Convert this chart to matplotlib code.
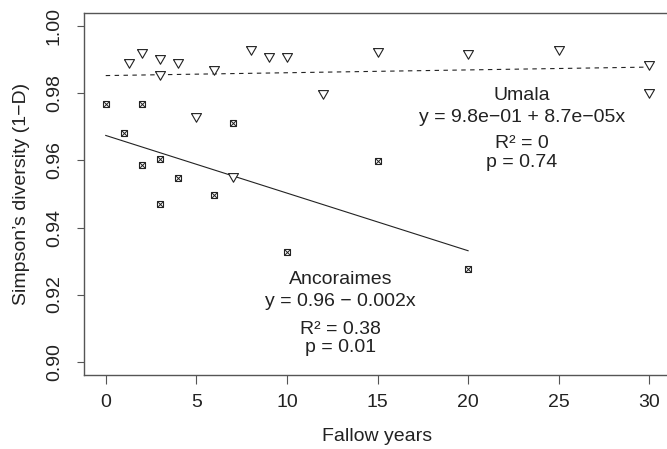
import numpy as np
import matplotlib
matplotlib.use("Agg")
import matplotlib.pyplot as plt

plt.rcParams['font.family'] = ['Liberation Sans', 'DejaVu Sans']

# Ancoraimes (boxed-x squares)
anc_years = [0, 1, 2, 2, 3, 3, 4, 6, 7, 10, 15, 20]
anc_div = [0.9768, 0.9682, 0.9768, 0.9587, 0.9604, 0.9470, 0.9548, 0.9497,
           0.9713, 0.9328, 0.9599, 0.9277]

# Umala (downward triangles)
uma_years = [1.3, 2, 3, 3, 4, 5, 6, 7, 8, 9, 10, 12, 15, 20, 25, 30, 30]
uma_div = [0.9894, 0.9925, 0.9906, 0.9858, 0.9894, 0.9733, 0.9874, 0.9555,
           0.9932, 0.9912, 0.9912, 0.9801, 0.9927, 0.9922, 0.9932, 0.9887, 0.9803]

anc_text = ['Ancoraimes', 'y = 0.96 \u2212 0.002x', 'R\u00b2 = 0.38', 'p = 0.01']
uma_text = ['Umala', 'y = 9.8e\u221201 + 8.7e\u221205x', 'R\u00b2 = 0', 'p = 0.74']

x_ticks = [0, 5, 10, 15, 20, 25, 30]
y_ticks = [0.90, 0.92, 0.94, 0.96, 0.98, 1.00]

ink = '#222222'
frame = '#555555'

fig = plt.figure(figsize=(6.67, 4.49), dpi=100)
ax = fig.add_axes([84 / 667, 74 / 449, 587 / 667, 362 / 449])

# fitted lines, drawn from 0 to the largest fallow age
for xs, ys, ls in [(anc_years, anc_div, '-'), (uma_years, uma_div, (0, (4, 4)))]:
    slope, icpt = np.polyfit(xs, ys, 1)
    xx = np.array([0, max(xs)])
    ax.plot(xx, icpt + slope * xx, color=ink, lw=0.8, ls=ls)

tri = [(-1, 0.58), (1, 0.58), (0, -1.15), (-1, 0.58)]
ax.plot(uma_years, uma_div, ls='none', marker=tri, ms=8.3, mfc='white',
        mec=ink, mew=0.8)
ax.plot(anc_years, anc_div, ls='none', marker='s', ms=4.2, mfc='white',
        mec=ink, mew=0.8)
ax.plot(anc_years, anc_div, ls='none', marker='x', ms=4.2, mec=ink, mew=0.7)

# annotation blocks
for x, ys, lines in [(12.96, [0.9232, 0.9167, 0.9083, 0.9030], anc_text),
                     (22.98, [0.9780, 0.9714, 0.9637, 0.9580], uma_text)]:
    for y, s in zip(ys, lines):
        ax.text(x, y, s, ha='center', va='baseline', fontsize=14, color=ink)

ax.set_xlim(-1.2, 31.2)
ax.set_ylim(0.896, 1.004)
ax.set_xticks(x_ticks)
ax.set_xticklabels([str(t) for t in x_ticks])
ax.set_yticks(y_ticks)
ax.set_yticklabels(['%.2f' % t for t in y_ticks], rotation=90, va='center')

ax.tick_params(axis='x', length=6.5, width=0.8, color=frame, pad=7,
               labelsize=14, labelcolor=ink)
ax.tick_params(axis='y', length=5.2, width=0.8, color=frame, pad=10,
               labelsize=14, labelcolor=ink)
for sp in ax.spines.values():
    sp.set_color(frame)
    sp.set_linewidth(1.0)

ax.set_xlabel('Fallow years', fontsize=14, color=ink)
ax.set_ylabel('Simpson\u2019s diversity (1\u2212D)', fontsize=14, color=ink)
ax.xaxis.set_label_coords(0.5, -0.171)
ax.yaxis.set_label_coords(-0.106, 0.5)
ax.xaxis.label.set_va('center')
ax.yaxis.label.set_va('center')

fig.savefig('out.png', dpi=100)
